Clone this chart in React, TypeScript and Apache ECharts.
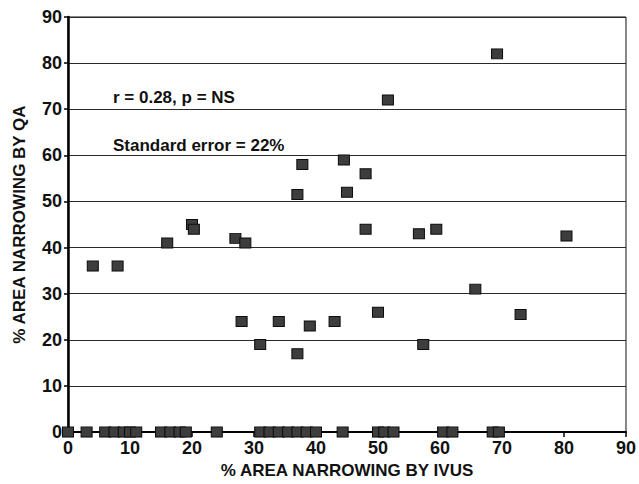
import React, { useEffect, useRef } from 'react';
import * as echarts from 'echarts';

// % area narrowing by IVUS (x) and by QA (y), one entry per lesion
const ivus = [
  4, 8, 16, 20, 20.3, 27, 28.6, 28, 31, 34, 37, 39, 43, 50, 57.3,
  37, 37.8, 44.5, 45, 48, 48, 56.6, 59.4, 51.6, 69.2, 65.7, 73, 80.4,
  0, 3, 6, 7.5, 9, 10, 11, 15, 16.5, 18, 19, 24,
  31, 32.5, 34, 35.5, 37, 38.5, 40, 44.3, 50, 51, 52.5, 60.5, 62, 68.5, 69.5,
];
const qa = [
  36, 36, 41, 45, 44, 42, 41, 24, 19, 24, 17, 23, 24, 26, 19,
  51.5, 58, 59, 52, 56, 44, 43, 44, 72, 82, 31, 25.5, 42.5,
  0, 0, 0, 0, 0, 0, 0, 0, 0, 0, 0, 0,
  0, 0, 0, 0, 0, 0, 0, 0, 0, 0, 0, 0, 0, 0, 0,
];

const xAxisTitle = '% AREA NARROWING BY IVUS';
const yAxisTitle = '% AREA NARROWING BY QA';
const annotations = ['r = 0.28, p = NS', 'Standard error = 22%'];

const FONT = '"Liberation Sans", Arial, Helvetica, sans-serif';

export default function App() {
  const ref = useRef<HTMLDivElement>(null);

  useEffect(() => {
    document.body.style.margin = '0';
    if (!ref.current) return;
    const chart = echarts.init(ref.current, undefined, { renderer: 'svg' });
    const data = ivus.map((x, i) => [x, qa[i]]);
    chart.setOption({
      animation: false,
      backgroundColor: '#ffffff',
      textStyle: { fontFamily: FONT },
      grid: {
        left: 68,
        right: 7,
        top: 17,
        bottom: 43,
        show: true,
        borderColor: '#111',
        borderWidth: 1,
        backgroundColor: 'transparent',
      },
      xAxis: {
        type: 'value',
        min: 0,
        max: 90,
        interval: 10,
        name: xAxisTitle,
        nameLocation: 'middle',
        nameGap: 27,
        nameTextStyle: { fontSize: 17, fontWeight: 'bold', color: '#111', fontFamily: FONT },
        axisLine: { show: true, onZero: false, lineStyle: { color: '#000', width: 2 } },
        axisTick: { show: true, length: 5, lineStyle: { color: '#000', width: 1.5 } },
        axisLabel: { margin: 7, fontSize: 18, fontWeight: 'bold', color: '#111', fontFamily: FONT },
        splitLine: { show: false },
      },
      yAxis: {
        type: 'value',
        min: 0,
        max: 90,
        interval: 10,
        name: yAxisTitle,
        nameLocation: 'middle',
        nameGap: 40,
        nameRotate: 90,
        nameTextStyle: { fontSize: 17, fontWeight: 'bold', color: '#111', fontFamily: FONT },
        axisLine: { show: true, onZero: false, lineStyle: { color: '#000', width: 2.5 } },
        axisTick: { show: true, length: 4, lineStyle: { color: '#000', width: 1.5 } },
        axisLabel: { margin: 6, fontSize: 18, fontWeight: 'bold', color: '#111', fontFamily: FONT },
        splitLine: { show: true, lineStyle: { color: '#2a2a2a', width: 1 } },
      },
      graphic: [
        {
          type: 'text',
          left: 113,
          top: 89,
          style: { text: annotations[0], font: `bold 17px ${FONT}`, fill: '#111' },
        },
        {
          type: 'text',
          left: 113,
          top: 137,
          style: { text: annotations[1], font: `bold 17px ${FONT}`, fill: '#111' },
        },
      ],
      series: [
        {
          type: 'scatter',
          data,
          clip: false,
          symbol: 'rect',
          symbolSize: [11, 10],
          itemStyle: { color: '#3d3d3d', borderColor: '#0d0d0d', borderWidth: 1, opacity: 1 },
          z: 5,
        },
      ],
    });
    return () => chart.dispose();
  }, []);

  return (
    <div
      ref={ref}
      style={{ position: 'fixed', left: 0, top: 0, width: 639, height: 484 }}
    />
  );
}
